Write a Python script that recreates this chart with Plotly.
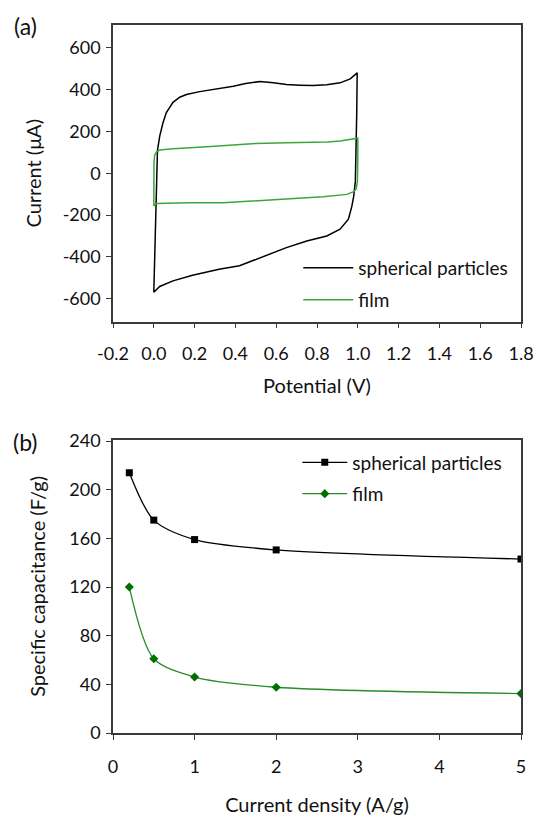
import plotly.graph_objects as go

# ---- (a) cyclic voltammograms ----
cv_sph_v = [0.0, 0.004, 0.008, 0.011, 0.014, 0.018, 0.029, 0.045, 0.061, 0.094, 0.127, 0.16, 0.225, 0.29,
            0.39, 0.45, 0.52, 0.586, 0.65, 0.717, 0.78, 0.848, 0.913, 0.963, 0.997, 0.995, 0.993, 0.988,
            0.98, 0.971, 0.954, 0.913, 0.848, 0.75, 0.65, 0.553, 0.487, 0.42, 0.32, 0.19, 0.094, 0.029, 0.0]
cv_sph_i = [-570, -400, -200, -50, 30, 110, 178, 242, 290, 340, 364, 377, 391, 401,
            417, 430, 439, 433, 425, 422, 420, 424, 433, 452, 481, 300, 100, -40,
            -109, -157, -220, -268, -300, -324, -356, -392, -420, -443, -459, -488, -515, -542, -570]

cv_film_v = [0.0, 0.0, 0.001, 0.004, 0.012, 0.029, 0.094, 0.26, 0.4, 0.5, 0.65, 0.75, 0.85, 0.913, 0.97,
             1.0, 1.0, 0.998, 0.992, 0.98, 0.946, 0.83, 0.668, 0.505, 0.34, 0.176, 0.012, 0.0]
cv_film_i = [-157, -50, 50, 85, 102, 111, 118, 127, 137, 143, 146, 147, 150, 155, 162,
             168, 60, -40, -75, -88, -101, -112, -122, -133, -141, -141, -145, -157]

cv_xticks = [-0.2, 0.0, 0.2, 0.4, 0.6, 0.8, 1.0, 1.2, 1.4, 1.6, 1.8]
cv_yticks = [-600, -400, -200, 0, 200, 400, 600]

# ---- (b) specific capacitance ----
current_density = [0.2, 0.5, 1, 2, 5]
cap_spherical = [214, 175, 159, 150.5, 143]
cap_film = [120, 61, 46, 37.6, 32.4]
cap_xticks = [0, 1, 2, 3, 4, 5]
cap_yticks = [0, 40, 80, 120, 160, 200, 240]

FONT = "Lato"
W, H = 535, 816
L, R, T, B = 112.5, 14, 25, 82.7
PW, PH = W - L - R, H - T - B
FS_TICK = 18
FS_TITLE = 20
FS_LEG = 19
AX = "#3a3a3a"
GREEN_CV = "rgb(60,165,60)"
GREEN_B = "rgb(40,140,40)"
GREEN_M = "rgb(0,110,0)"


def px(xp):
    return (xp - L) / PW


def py(yp):
    return (H - B - yp) / PH


def fmt(v, nd=0):
    return f"{v:.{nd}f}"


fig = go.Figure()
fig.add_trace(go.Scatter(x=cv_sph_v, y=cv_sph_i, mode="lines", name="spherical particles",
                         line=dict(color="black", width=1.5), xaxis="x", yaxis="y", legend="legend"))
fig.add_trace(go.Scatter(x=cv_film_v, y=cv_film_i, mode="lines", name="film",
                         line=dict(color=GREEN_CV, width=1.5), xaxis="x", yaxis="y", legend="legend2"))
fig.add_trace(go.Scatter(x=current_density, y=cap_spherical, mode="lines+markers", name="spherical particles",
                         line=dict(color="black", width=1.3, shape="spline", smoothing=0.8),
                         marker=dict(symbol="square", size=7, color="black"),
                         xaxis="x2", yaxis="y2", legend="legend3"))
fig.add_trace(go.Scatter(x=current_density, y=cap_film, mode="lines+markers", name="film",
                         line=dict(color=GREEN_B, width=1.3, shape="spline", smoothing=0.8),
                         marker=dict(symbol="diamond", size=7, color=GREEN_M),
                         xaxis="x2", yaxis="y2", legend="legend4"))

top_dom = [py(321.7), 1.0]
bot_dom = [0.0, py(440)]

axis_common = dict(showline=True, linecolor=AX, linewidth=1.5, mirror=True, ticks="outside",
                   ticklen=5, tickwidth=1, tickcolor=AX, showgrid=False, zeroline=False,
                   automargin=False,
                   tickfont=dict(family=FONT, size=FS_TICK, color="#111"))
title_font = dict(family=FONT, size=FS_TITLE, color="#111")

fig.update_layout(
    width=W, height=H, autosize=False,
    margin=dict(l=L, r=R, t=T, b=B),
    paper_bgcolor="white", plot_bgcolor="white",
    font=dict(family=FONT, size=FS_TICK, color="#111"),
    showlegend=True,
    xaxis=dict(domain=[0, 1], range=[-0.2, 1.8], tickvals=cv_xticks,
               ticktext=[fmt(v, 1) for v in cv_xticks], anchor="y",
               title=dict(text="Potential (V)", standoff=16, font=title_font),
               ticklabelstandoff=10, **axis_common),
    yaxis=dict(domain=top_dom, range=[-710, 710], tickvals=cv_yticks,
               ticktext=[fmt(v) for v in cv_yticks], anchor="x",
               title=dict(text="Current (μA)", standoff=16, font=title_font),
               ticklabelstandoff=2, **axis_common),
    xaxis2=dict(domain=[0, 1], range=[0, 5], tickvals=cap_xticks,
                ticktext=[fmt(v) for v in cap_xticks], anchor="y2",
                title=dict(text="Current density (A/g)", standoff=22, font=title_font),
                ticklabelstandoff=12, **axis_common),
    yaxis2=dict(domain=bot_dom, range=[0, 241], tickvals=cap_yticks,
                ticktext=[fmt(v) for v in cap_yticks], anchor="x2",
                title=dict(text="Specific capacitance (F/g)", standoff=18, font=title_font),
                ticklabelstandoff=2, **axis_common),
)

leg_common = dict(bgcolor="rgba(0,0,0,0)", borderwidth=0, font=dict(family=FONT, size=FS_LEG, color="#111"),
                  xanchor="left", yanchor="middle")
fig.update_layout(
    legend=dict(x=px(298), y=py(268), itemwidth=50, **leg_common),
    legend2=dict(x=px(298), y=py(300), itemwidth=50, **leg_common),
    legend3=dict(x=px(297), y=py(462.7), itemwidth=45, **leg_common),
    legend4=dict(x=px(297), y=py(494), itemwidth=45, **leg_common),
)

fig.add_annotation(text="(a)", x=px(11), y=py(26), xref="paper", yref="paper",
                   xanchor="left", yanchor="middle", showarrow=False,
                   font=dict(family=FONT, size=23, color="#111"))
fig.add_annotation(text="(b)", x=px(10), y=py(442), xref="paper", yref="paper",
                   xanchor="left", yanchor="middle", showarrow=False,
                   font=dict(family=FONT, size=23, color="#111"))

fig.write_html("out.html", config={"displayModeBar": False},
               post_script="document.body.style.margin='0';document.body.style.overflow='hidden';")
